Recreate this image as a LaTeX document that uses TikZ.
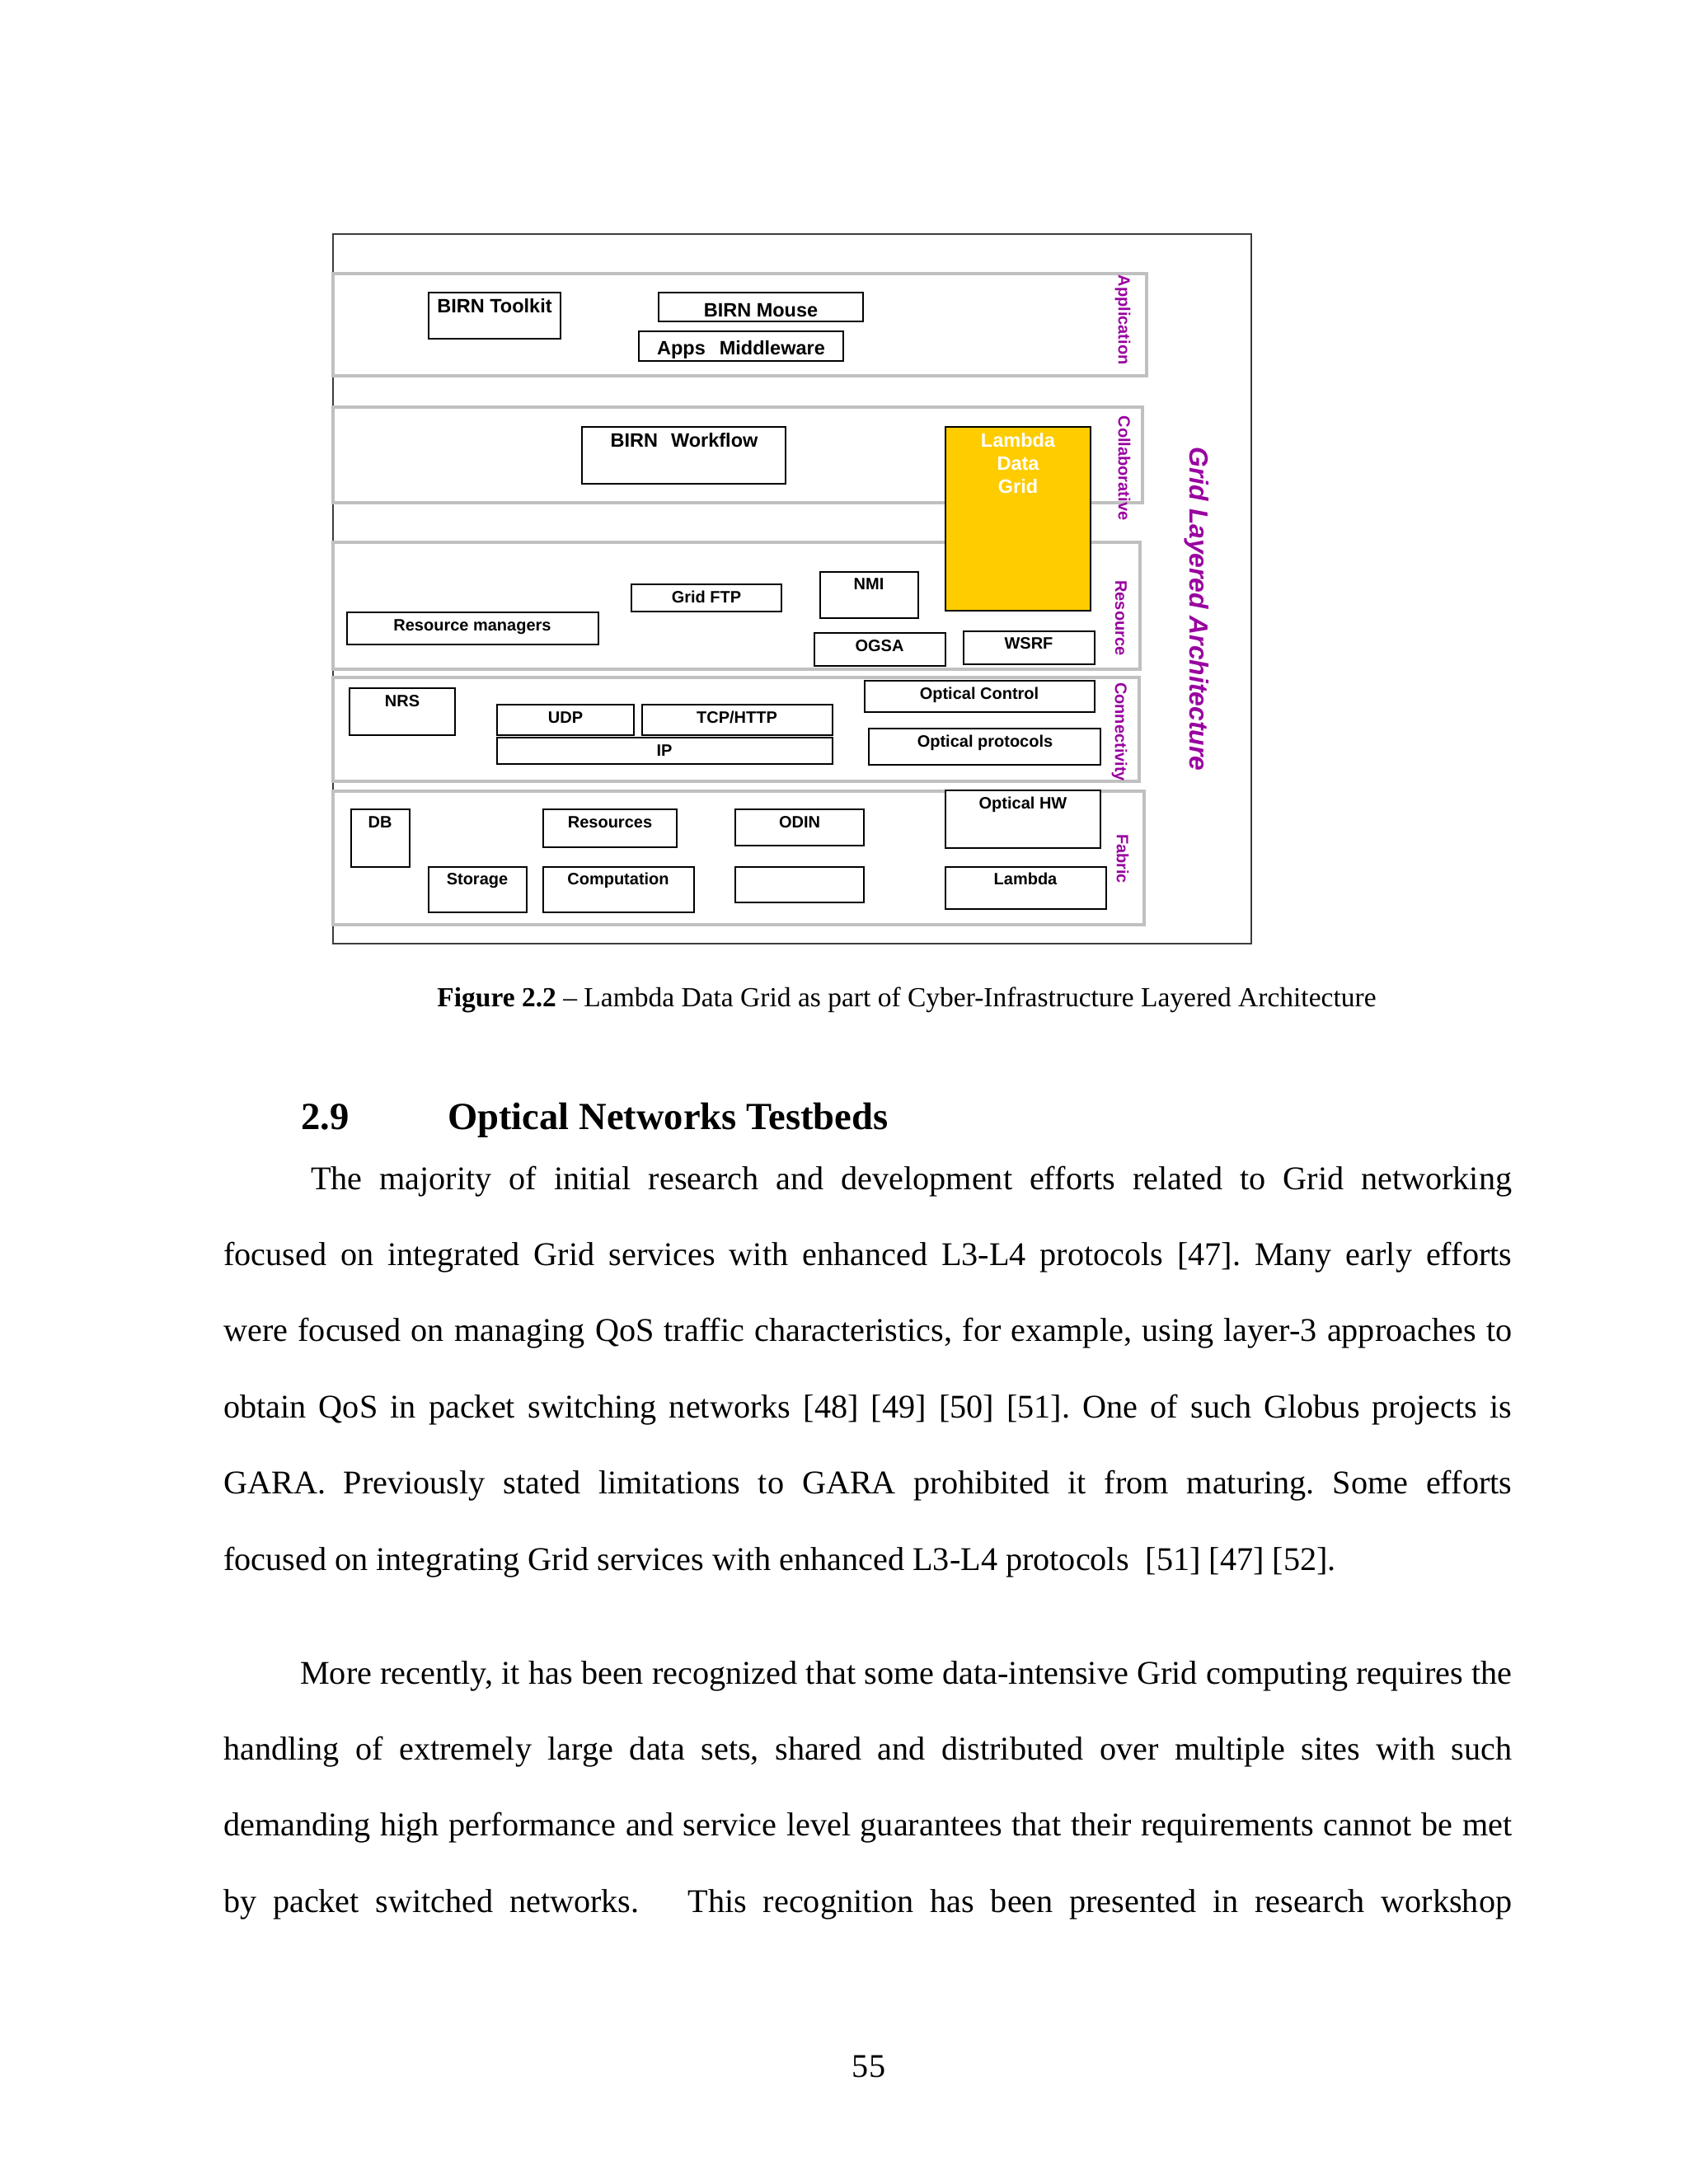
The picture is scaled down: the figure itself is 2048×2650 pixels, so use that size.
\documentclass[tikz,border=0pt]{standalone}
\usepackage{fontspec}
\setmainfont{Liberation Serif}
\setsansfont{Liberation Sans}
\definecolor{layergray}{RGB}{192,192,192}
\definecolor{layerpurple}{RGB}{153,0,160}
\definecolor{ldggold}{RGB}{255,204,0}
\definecolor{framegray}{RGB}{60,60,60}
\tikzset{
  band/.style={draw=layergray, line width=3.5pt, fill=white},
  comp/.style={draw=black, line width=1.8pt, fill=white},
  biglbl/.style={font=\sffamily\bfseries\fontsize{23.5}{28}\selectfont, anchor=base, inner sep=0},
  smllbl/.style={font=\sffamily\bfseries\fontsize{20}{24}\selectfont, anchor=base, inner sep=0},
  layerlbl/.style={font=\sffamily\bfseries\fontsize{20}{24}\selectfont, text=layerpurple, rotate=-90, inner sep=0},
  bodytext/.style={font=\fontsize{40.2}{92.4}\selectfont\frenchspacing, text width=1563pt, align=justify, inner sep=0, anchor=base west}
}

\begin{document}
\begin{tikzpicture}[x=1pt, y=-1pt]
    \path[fill=white, use as bounding box] (0,0) rectangle (2048,2650);
    \draw[framegray, line width=2pt] (404,284) rectangle (1518,1145);
    \draw[band] (404,332) rectangle (1391,456);
    \draw[band] (404,494) rectangle (1386,610);
    \draw[band] (404,658) rectangle (1383,812);
    \draw[band] (404,822) rectangle (1382,948);
    \draw[band] (404,960) rectangle (1388,1122);
    \node[layerlbl] (app) at (1362,388) {Application};
    \node[layerlbl] (collab) at (1364,568) {Collaborative};
    \node[layerlbl] (res) at (1360,750) {Resource};
    \node[layerlbl] (conn) at (1358,888) {Connectivity};
    \node[layerlbl] (fab) at (1362,1042) {Fabric};
    \node[font=\sffamily\bfseries\itshape\fontsize{31.8}{36}\selectfont, text=layerpurple, rotate=-90, inner sep=0] (gla) at (1452,739) {Grid Layered Architecture};
    \draw[comp] (520,355) rectangle (680,411);
    \node[biglbl] (toolkit) at (600,379) {BIRN Toolkit};
    \draw[comp] (799,355) rectangle (1047,390);
    \node[biglbl] (mouse) at (923,384) {BIRN Mouse};
    \draw[comp] (775,402) rectangle (1023,438);
    \node[biglbl] (apps) at (899,430) {Apps\hspace{17pt}Middleware};
    \draw[comp] (706,518) rectangle (953,587);
    \node[biglbl] (workflow) at (830,542) {BIRN\hspace{16pt}Workflow};
    \draw[comp, fill=ldggold] (1147,518) rectangle (1323,741);
    \node[biglbl, text=white, align=center, anchor=north, font=\sffamily\bfseries\fontsize{23.5}{28}\selectfont] (ldg) at (1235,525) {Lambda\\Data\\Grid};
    \draw[comp] (766,709) rectangle (948,742);
    \node[smllbl] (gridftp) at (857,731) {Grid FTP};
    \draw[comp] (995,694) rectangle (1114,750);
    \node[smllbl] (nmi) at (1054,715) {NMI};
    \draw[comp] (421,743) rectangle (726,782);
    \node[smllbl] (resmgr) at (573,765) {Resource managers};
    \draw[comp] (988,768) rectangle (1147,808);
    \node[smllbl] (ogsa) at (1067,790) {OGSA};
    \draw[comp] (1169,766) rectangle (1328,806);
    \node[smllbl] (wsrf) at (1248,787) {WSRF};
    \draw[comp] (424,835) rectangle (552,892);
    \node[smllbl] (nrs) at (488,857) {NRS};
    \draw[comp] (603,855) rectangle (769,892);
    \node[smllbl] (udp) at (686,877) {UDP};
    \draw[comp] (779,855) rectangle (1010,892);
    \node[smllbl] (tcp) at (894,877) {TCP/HTTP};
    \draw[comp] (603,895) rectangle (1010,927);
    \node[smllbl] (ip) at (806,917) {IP};
    \draw[comp] (1049,826) rectangle (1328,864);
    \node[smllbl] (optctl) at (1188,848) {Optical Control};
    \draw[comp] (1054,884) rectangle (1335,928);
    \node[smllbl] (optproto) at (1195,906) {Optical protocols};
    \draw[comp] (426,982) rectangle (497,1052);
    \node[smllbl] (db) at (461,1004) {DB};
    \draw[comp] (520,1052) rectangle (639,1107);
    \node[smllbl] (storage) at (579,1073) {Storage};
    \draw[comp] (659,982) rectangle (821,1028);
    \node[smllbl] (resources) at (740,1004) {Resources};
    \draw[comp] (659,1052) rectangle (842,1107);
    \node[smllbl] (computation) at (750,1073) {Computation};
    \draw[comp] (892,982) rectangle (1048,1026);
    \node[smllbl] (odin) at (970,1004) {ODIN};
    \draw[comp] (892,1052) rectangle (1048,1095);
    \draw[comp] (1147,959) rectangle (1335,1029);
    \node[smllbl] (opthw) at (1241,981) {Optical HW};
    \draw[comp] (1147,1052) rectangle (1342,1103);
    \node[smllbl] (lambda) at (1244,1073) {Lambda};
    \node[anchor=base, inner sep=0, font=\fontsize{33.5}{40}\selectfont] (caption) at (1100,1221) {\textbf{Figure 2.2} -- Lambda Data Grid as part of Cyber-Infrastructure Layered Architecture};
    \node[anchor=base west, inner sep=0, font=\bfseries\fontsize{46.6}{56}\selectfont] (secnum) at (365,1370) {2.9};
    \node[anchor=base west, inner sep=0, font=\bfseries\fontsize{46.6}{56}\selectfont] (sectitle) at (543,1370) {Optical Networks Testbeds};
    \node[bodytext] (para1) at (271,1443) {\tolerance=10000\hyphenpenalty=10000\exhyphenpenalty=10000\hspace*{106pt}The majority of initial research and development efforts related to Grid networking\linebreak focused on integrated Grid services with enhanced L3-L4 protocols [47]. Many early efforts\linebreak were focused on managing QoS traffic characteristics, for example, using layer-3 approaches to\linebreak obtain QoS in packet switching networks [48] [49] [50] [51]. One of such Globus projects is\linebreak GARA. Previously stated limitations to GARA prohibited it from maturing. Some efforts\linebreak focused on integrating Grid services with enhanced L3-L4 protocols\ \ [51] [47] [52].};
    \node[bodytext] (para2) at (271,2043) {\tolerance=10000\hyphenpenalty=10000\exhyphenpenalty=10000\parfillskip=0pt\hspace*{93pt}More recently, it has been recognized that some data-intensive Grid computing requires the\linebreak handling of extremely large data sets, shared and distributed over multiple sites with such\linebreak demanding high performance and service level guarantees that their requirements cannot be met\linebreak by packet switched networks.\ \ \ This recognition has been presented in research workshop\par};
    \node[anchor=base, inner sep=0, font=\fontsize{40.2}{48}\selectfont] (pagenum) at (1054,2520) {55};
\end{tikzpicture}
\end{document}
